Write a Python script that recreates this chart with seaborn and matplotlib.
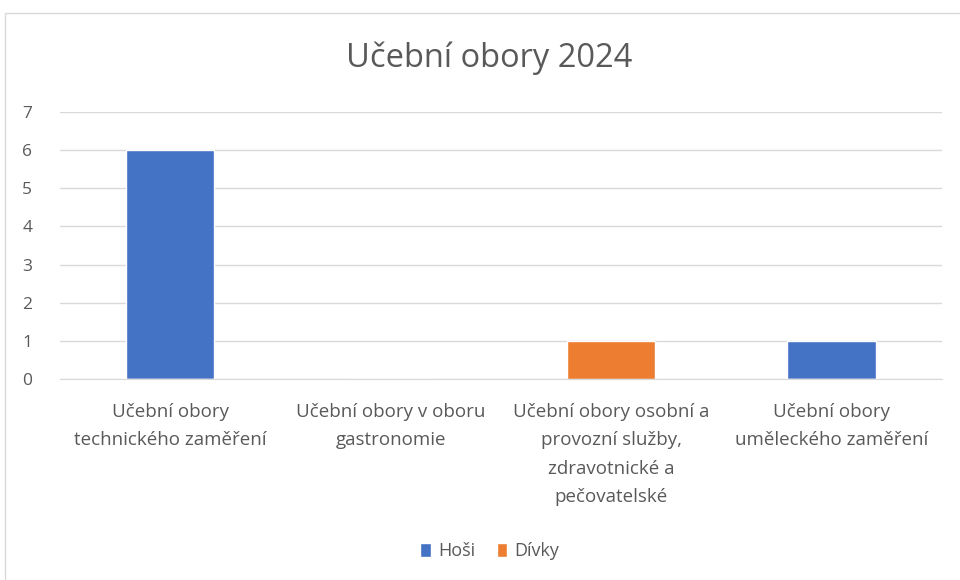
import pandas as pd
import seaborn as sns
import matplotlib.pyplot as plt
from matplotlib.patches import Rectangle

# data
obory = [
    "Učební obory\ntechnického zaměření",
    "Učební obory v oboru\ngastronomie",
    "Učební obory osobní a\nprovozní služby,\nzdravotnické a\npečovatelské",
    "Učební obory\numěleckého zaměření",
]
hosi = [6, 0, 0, 1]
divky = [0, 0, 1, 0]
barvy = ["#4472C4", "#ED7D31"]

df = pd.DataFrame({
    "obor": obory * 2,
    "pocet": hosi + divky,
    "skupina": ["Hoši"] * len(obory) + ["Dívky"] * len(obory),
})

sns.set_style("white")
plt.rcParams["font.family"] = ["Open Sans", "DejaVu Sans"]

fig = plt.figure(figsize=(9.6, 5.8), dpi=100)
ax = fig.add_axes([0.0625, 0.3466, 0.9185, 0.4604])

sns.barplot(data=df, x="obor", y="pocet", hue="skupina", palette=barvy,
            dodge=False, width=0.4, ax=ax, saturation=1)

ax.set_ylim(0, 7)
ax.set_yticks(range(0, 8))
ax.set_xlim(-0.5, 3.5)
ax.set_xticks(range(len(obory)))
ax.set_xticklabels(obory, linespacing=1.75)
ax.grid(axis="y", color="#d9d9d9", linewidth=1)
ax.set_axisbelow(True)
for s in ["top", "right", "left"]:
    ax.spines[s].set_visible(False)
ax.spines["bottom"].set_color("#d9d9d9")
ax.tick_params(length=0, colors="#595959")
ax.tick_params(axis="x", labelsize=13.5, pad=17)
ax.tick_params(axis="y", labelsize=12.5, pad=20)
ax.set_xlabel("")
ax.set_ylabel("")

fig.text(0.51, 0.9, "Učební obory 2024", ha="center", va="center",
         fontsize=23.5, color="#595959")

ax.legend(loc="center", bbox_to_anchor=(0.51, 0.05), bbox_transform=fig.transFigure,
          ncol=2, frameon=False, handlelength=0.6, handleheight=0.8,
          handletextpad=0.4, columnspacing=1.2, fontsize=13, labelcolor="#595959")

fig.patches.append(Rectangle((5 / 960, -0.01), 1.0, 1 - 13 / 580 + 0.01,
                             transform=fig.transFigure, fill=False,
                             edgecolor="#d9d9d9", linewidth=1))

fig.savefig("out.png", dpi=100)
